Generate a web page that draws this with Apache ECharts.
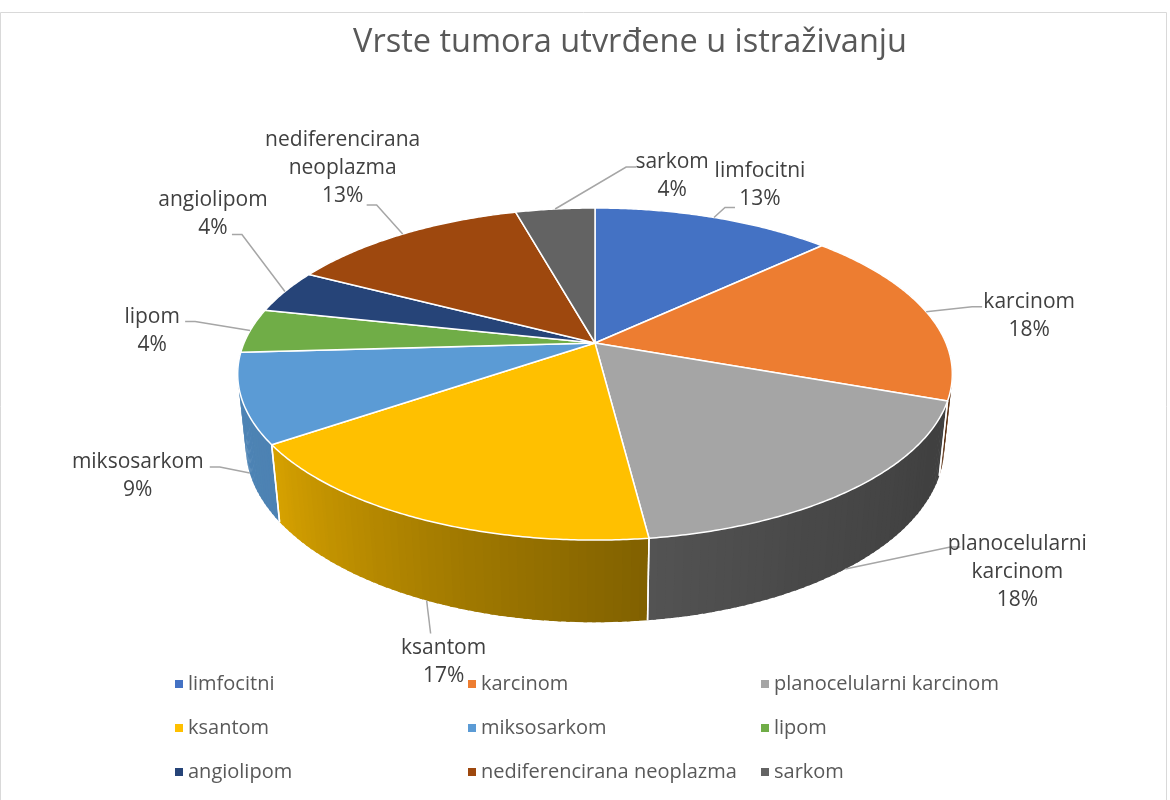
<!DOCTYPE html>
<html><head><meta charset="utf-8">
<script src="https://cdn.jsdelivr.net/npm/echarts@6/dist/echarts.min.js"></script>
<style>html,body{margin:0;padding:0;background:#fff}#c{width:1170px;height:800px}</style>
</head><body><div id="c"></div>
<script>
// ---- data ----
const titleText = 'Vrste tumora utvrđene u istraživanju';
const categories = ['limfocitni', 'karcinom', 'planocelularni karcinom', 'ksantom', 'miksosarkom', 'lipom', 'angiolipom', 'nediferencirana neoplazma', 'sarkom'];
const labelNames = ['limfocitni', 'karcinom', 'planocelularni\nkarcinom', 'ksantom', 'miksosarkom', 'lipom', 'angiolipom', 'nediferencirana\nneoplazma', 'sarkom'];
const values = [13.0, 17.5, 17.5, 17.4, 8.7, 4.3, 4.3, 13.0, 4.3];

// ---- style / layout ----
const colors = ['#4472C4', '#ED7D31', '#A5A5A5', '#FFC000', '#5B9BD5', '#70AD47', '#264478', '#9E480E', '#636363'];
const FONT = '"Open Sans", "Noto Sans", sans-serif';
const VIEW = { cx: 595, cy: 343, F: 351, sinA: 0.4566, cosA: 0.8897, D: 4.76, H: 0.234 };
// [textDx, textDy, leaderEndDx, leaderEndDy] relative to the slice anchor point
const labelLayout = [
  [46, -32, 21, -10],
  [103, 4, 56, -5],
  [172, 3, 115, -22],
  [17, 62, 4, 33],
  [-112, 3, -40, -6],
  [-98, 0, -65, -9],
  [-72, -78, -53, -57],
  [-60, -66, -36, -29],
  [117, -33, 81, -42]
];
// wall shading by angle (light from the left)
const shadeTable = [[0, 0.38], [120, 0.39], [150, 0.44], [172, 0.5], [200, 0.64], [235, 0.84], [270, 0.85], [360, 0.85]];

function proj(theta, rho, h) {
  const t = theta * Math.PI / 180;
  const x = rho * Math.sin(t), z = -rho * Math.cos(t);
  const zp = z * VIEW.cosA - h * VIEW.sinA;
  const yp = z * VIEW.sinA + h * VIEW.cosA;
  const sc = VIEW.D / (VIEW.D - zp);
  return [VIEW.cx + VIEW.F * x * sc, VIEW.cy + VIEW.F * yp * sc];
}
function shade(theta) {
  for (let i = 1; i < shadeTable.length; i++) {
    const [t0, v0] = shadeTable[i - 1], [t1, v1] = shadeTable[i];
    if (theta <= t1) return v0 + (v1 - v0) * (theta - t0) / (t1 - t0);
  }
  return 0.85;
}
function darken(hex, f) {
  const n = parseInt(hex.slice(1), 16);
  const r = Math.round(((n >> 16) & 255) * f), g = Math.round(((n >> 8) & 255) * f), b = Math.round((n & 255) * f);
  return 'rgb(' + r + ',' + g + ',' + b + ')';
}
const total = values.reduce((a, b) => a + b, 0);

function renderSlice(i) {
  return function (params, api) {
    let start = 0;
    for (let j = 0; j < i; j++) start += values[j];
    const v = api.value(0);
    const a1 = start / total * 360, a2 = (start + v) / total * 360;
    const children = [];
    const n = Math.max(1, Math.ceil((a2 - a1) / 1.2));
    for (let k = 0; k < n; k++) {
      const ta = a1 + (a2 - a1) * k / n, tm = a1 + (a2 - a1) * (k + 0.5) / n;
      const tb = Math.min(a2, a1 + (a2 - a1) * (k + 1) / n + 0.5);
      const zm = -Math.cos(tm * Math.PI / 180);
      if (zm < -0.45) continue;
      const fill = darken(colors[i], shade(tm));
      children.push({
        type: 'polygon', z2: 10 + k * 0.001 + Math.round((zm + 1) * 10), silent: true,
        shape: { points: [proj(ta, 1, 0), proj(tb, 1, 0), proj(tb, 1, VIEW.H), proj(ta, 1, VIEW.H)] },
        style: { fill: fill }
      });
    }
    [a1, a2].forEach(function (t) {
      if (-Math.cos(t * Math.PI / 180) > 0.15) {
        children.push({ type: 'polyline', z2: 50, silent: true,
          shape: { points: [proj(t, 1, 0), proj(t, 1, VIEW.H)] },
          style: { stroke: '#fff', lineWidth: 1.5, fill: null } });
      }
    });
    const pts = [[VIEW.cx, VIEW.cy]];
    const m = Math.max(2, Math.ceil((a2 - a1) / 0.5));
    for (let k = 0; k <= m; k++) pts.push(proj(a1 + (a2 - a1) * k / m, 1, 0));
    children.push({ type: 'polygon', z2: 100, silent: true, shape: { points: pts },
      style: { fill: colors[i], stroke: '#fff', lineWidth: 1.5, lineJoin: 'round' } });
    // label + leader
    const mid = (a1 + a2) / 2;
    const anchor = proj(mid, 1, -Math.cos(mid * Math.PI / 180) > 0 ? VIEW.H : 0);
    const L = labelLayout[i];
    const end = [anchor[0] + L[2], anchor[1] + L[3]];
    const dir = Math.abs(anchor[0] - end[0]) < 6 ? 0 : Math.sign(anchor[0] - end[0]);
    const elbow = [end[0] + dir * 10, end[1]];
    children.push({ type: 'polyline', z2: 200, silent: true, shape: { points: [anchor, elbow, end] },
      style: { stroke: '#A6A6A6', lineWidth: 1.5, fill: null } });
    const pct = Math.round(v * 100 / total) + '%';
    children.push({ type: 'text', z2: 210, silent: true, x: anchor[0] + L[0], y: anchor[1] + L[1],
      style: { text: labelNames[i] + '\n' + pct, fill: '#404040', font: '21px ' + FONT,
        align: 'center', verticalAlign: 'middle', lineHeight: 28 } });
    return { type: 'group', children: children };
  };
}

const chart = echarts.init(document.getElementById('c'), null, { renderer: 'canvas' });
chart.setOption({
  animation: false,
  backgroundColor: '#fff',
  color: colors,
  title: {
    text: titleText, left: 625, top: 21, textAlign: 'center',
    textStyle: { fontFamily: FONT, fontSize: 32.5, fontWeight: 'normal', color: '#595959' }
  },
  legend: {
    left: 170, top: 662, width: 900, orient: 'horizontal',
    icon: 'rect', itemWidth: 8, itemHeight: 8, itemGap: 10,
    textStyle: { fontFamily: FONT, fontSize: 20, color: '#595959', width: 270, lineHeight: 34 },
    data: categories
  },
  graphic: [{ type: 'rect', silent: true, shape: { x: 0.5, y: 12.5, width: 1166, height: 800 },
    style: { fill: null, stroke: '#D9D9D9', lineWidth: 1 }, z: -10 }],
  series: categories.map(function (name, i) {
    return { type: 'custom', name: name, coordinateSystem: 'none', data: [values[i]],
      itemStyle: { color: colors[i] }, renderItem: renderSlice(i) };
  })
});
</script></body></html>
